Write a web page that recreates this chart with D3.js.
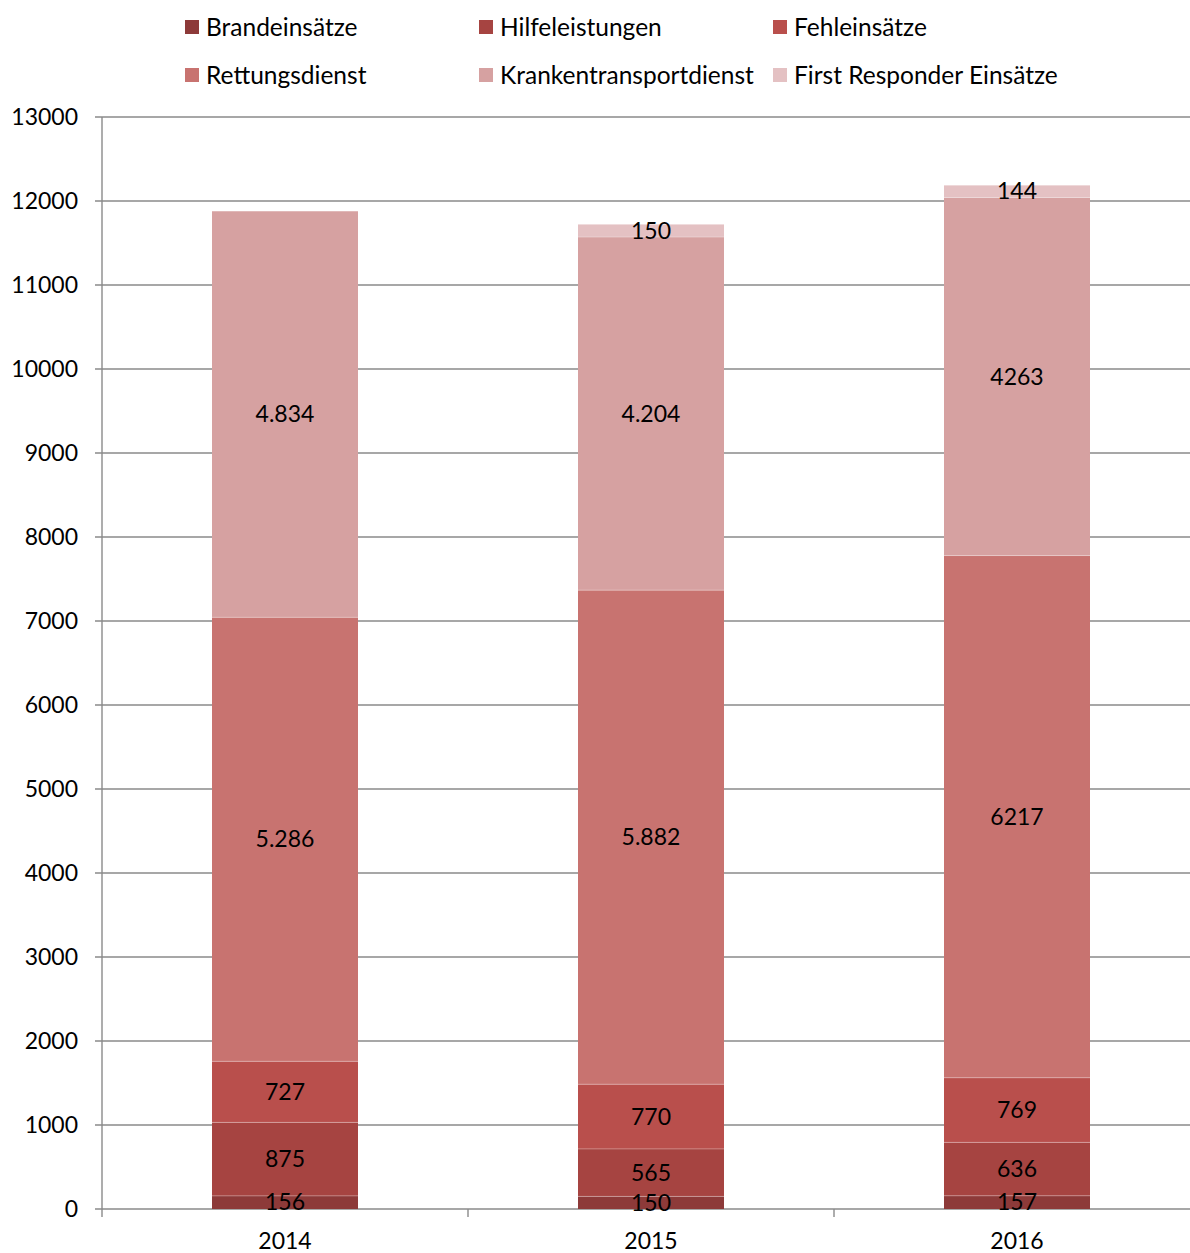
<!DOCTYPE html>
<html><head><meta charset="utf-8">
<script src="https://cdn.jsdelivr.net/npm/d3@7"></script>
<style>body{margin:0;background:#fff}svg{display:block}text{font-family:Lato,"Open Sans",sans-serif}</style>
</head><body><svg id="c" width="1190" height="1253"></svg>
<script>
const years = ["2014","2015","2016"];
const seriesNames = ["Brandeinsätze","Hilfeleistungen","Fehleinsätze","Rettungsdienst","Krankentransportdienst","First Responder Einsätze"];
const colors = ["#8d3a39","#a64441","#b94f4c","#c87370","#d6a1a1","#e4c1c3"];
const brand = [156,150,157];
const hilfe = [875,565,636];
const fehl = [727,770,769];
const rettung = [5286,5882,6217];
const kranken = [4834,4204,4263];
const first = [0,150,144];
const labels = [
  ["156","150","157"],
  ["875","565","636"],
  ["727","770","769"],
  ["5.286","5.882","6217"],
  ["4.834","4.204","4263"],
  ["","150","144"]
];
const yTicks = [0,1000,2000,3000,4000,5000,6000,7000,8000,9000,10000,11000,12000,13000];

(function(){
const values = [brand,hilfe,fehl,rettung,kranken,first];
const svg = d3.select("#c");
const pL = 102, pR = 1200, pT = 117, pB = 1209;
const numSize = 23, legSize = 24.5;
const xb = d3.scaleBand().domain(years).range([pL,pR]);
const y = d3.scaleLinear().domain([0,13000]).range([pB,pT]);

svg.append("g").selectAll("line").data(yTicks).join("line")
  .attr("x1",pL-7).attr("x2",1190).attr("y1",d=>y(d)).attr("y2",d=>y(d))
  .attr("stroke","#8a8a8a").attr("stroke-width",1.4);
svg.append("line").attr("x1",pL).attr("x2",pL).attr("y1",pT).attr("y2",pB+8)
  .attr("stroke","#8a8a8a").attr("stroke-width",1.4);
svg.append("g").selectAll("line").data(years.slice(1)).join("line")
  .attr("x1",d=>xb(d)).attr("x2",d=>xb(d)).attr("y1",pB).attr("y2",pB+8)
  .attr("stroke","#8a8a8a").attr("stroke-width",1.4);

svg.append("g").selectAll("text").data(yTicks).join("text")
  .attr("x",78).attr("y",d=>y(d)).attr("dy","0.35em").attr("text-anchor","end")
  .attr("font-size",numSize).attr("fill","#000").text(d=>d);
svg.append("g").selectAll("text").data(years).join("text")
  .attr("x",d=>xb(d)+xb.bandwidth()/2).attr("y",1240.5).attr("dy","0.35em").attr("text-anchor","middle")
  .attr("font-size",numSize).attr("fill","#000").text(d=>d);

const table = years.map((yr,i)=>{const o={year:yr};seriesNames.forEach((s,k)=>o[s]=values[k][i]);return o;});
const stack = d3.stack().keys(seriesNames)(table);
const bw = 146;
const barX = d => xb(d.data.year)+xb.bandwidth()/2-bw/2;
stack.forEach((layer,k)=>{
  const g = svg.append("g");
  g.selectAll("rect").data(layer).join("rect")
    .attr("x",barX).attr("width",bw)
    .attr("y",d=>y(d[1])).attr("height",d=>y(d[0])-y(d[1]))
    .attr("fill",colors[k]);
});
stack.forEach((layer,k)=>{
  if(k===0) return;
  svg.append("g").selectAll("line").data(layer.filter(d=>d[1]>d[0])).join("line")
    .attr("x1",barX).attr("x2",d=>barX(d)+bw).attr("y1",d=>y(d[0])).attr("y2",d=>y(d[0]))
    .attr("stroke","#fff").attr("stroke-opacity",0.3).attr("stroke-width",1);
});
stack.forEach((layer,k)=>{
  svg.append("g").selectAll("text").data(layer.map((d,i)=>({d,i})).filter(o=>labels[k][o.i]!==""))
    .join("text")
    .attr("x",o=>xb(o.d.data.year)+xb.bandwidth()/2)
    .attr("y",o=>y((o.d[0]+o.d[1])/2)).attr("dy","0.35em").attr("text-anchor","middle")
    .attr("font-size",numSize).attr("fill","#000").text(o=>labels[k][o.i]);
});

const leg = svg.append("g");
seriesNames.forEach((s,k)=>{
  const col = k%3, row = Math.floor(k/3);
  const lx = 185 + col*294, ly = 27 + row*48;
  leg.append("rect").attr("x",lx).attr("y",ly-7).attr("width",14).attr("height",14).attr("fill",colors[k]);
  leg.append("text").attr("x",lx+21).attr("y",ly).attr("dy","0.35em").attr("font-size",legSize).attr("fill","#000").text(s);
});
})();
</script></body></html>
